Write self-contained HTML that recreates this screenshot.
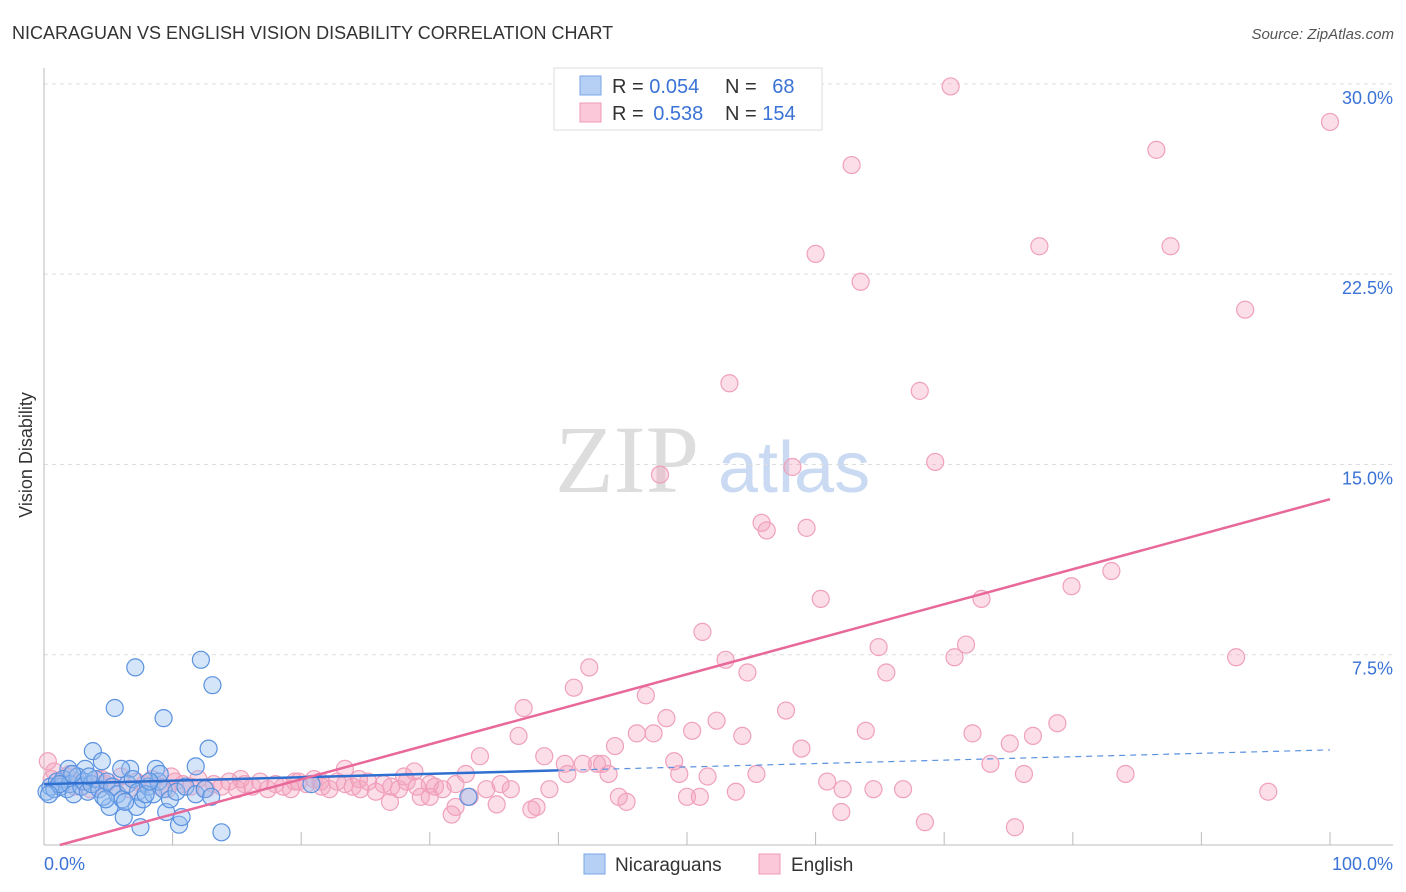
<!DOCTYPE html>
<html><head><meta charset="utf-8"><style>
body{margin:0;background:#fff;font-family:"Liberation Sans",sans-serif;}
svg{display:block}
</style></head><body>
<svg width="1406" height="892">
<text x="12" y="39" font-size="18" fill="#333">NICARAGUAN VS ENGLISH VISION DISABILITY CORRELATION CHART</text>
<text x="1394" y="39" font-size="15" fill="#555" font-style="italic" text-anchor="end">Source: ZipAtlas.com</text>
<text x="32" y="455" font-size="18" fill="#333" transform="rotate(-90 32 455)" text-anchor="middle">Vision Disability</text>
<g>
<text x="555" y="492" font-size="96" font-family="Liberation Serif,serif" fill="#ddd">ZIP</text>
<text x="718" y="492" font-size="72" fill="#c9daf2">atlas</text>
</g>
<g id="grid"></g>
<g id="axes"></g>
<g id="pts"></g>
<g id="lines"></g>
<g>
<rect x="554" y="68" width="268" height="62" fill="#fff" stroke="#ddd"/>
<rect x="580" y="76" width="21" height="19" fill="#b6d0f5" stroke="#7aa6e6"/>
<rect x="580" y="103" width="21" height="19" fill="#fac8d8" stroke="#ee9ab6"/>
<text x="612" y="93" font-size="20" fill="#333">R = <tspan fill="#3a72d6">0.054</tspan></text>
<text x="725" y="93" font-size="20" fill="#333">N = <tspan fill="#3a72d6" dx="10">68</tspan></text>
<text x="612" y="120" font-size="20" fill="#333">R = <tspan fill="#3a72d6" dx="4">0.538</tspan></text>
<text x="725" y="120" font-size="20" fill="#333">N = <tspan fill="#3a72d6">154</tspan></text>
</g>
<g>
<rect x="584" y="854" width="21" height="20" fill="#b6d0f5" stroke="#7aa6e6"/>
<text x="615" y="871" font-size="19" fill="#333">Nicaraguans</text>
<rect x="759" y="854" width="21" height="20" fill="#fac8d8" stroke="#ee9ab6"/>
<text x="791" y="871" font-size="19" fill="#333">English</text>
</g>
</svg>
<script>
const yTicks=[7.5,15,22.5,30];
const yTickLabels=["7.5%","15.0%","22.5%","30.0%"];
const xTickLabels=["0.0%","100.0%"];
const blueX=[7.1,12.2,13.1,5.5,9.3,12.8,3.8,11.8,4.5,8.7,6.7,6.0,1.9,3.2,13.8,7.5,10.5,10.7,6.2,9.5,5.1,7.2,20.8,33.0,
0.2,0.5,0.8,1.0,1.3,1.5,1.8,2.0,2.3,2.6,2.9,3.1,3.4,3.7,4.0,4.3,4.6,4.9,5.3,5.7,6.1,6.5,6.9,7.3,7.7,8.1,8.5,8.9,9.3,9.8,10.3,11.0,11.8,12.5,13.0,2.2,3.5,4.8,6.3,7.9,9.0,1.2,0.4,8.2];
const blueY=[7.0,7.3,6.3,5.4,5.0,3.8,3.7,3.1,3.3,3.0,3.0,3.0,3.0,3.0,0.5,0.7,0.8,1.1,1.1,1.3,1.5,1.5,2.4,1.9,
2.1,2.3,2.2,2.5,2.3,2.6,2.2,2.4,2.0,2.7,2.3,2.5,2.1,2.4,2.6,2.2,1.9,2.5,2.3,2.0,1.8,2.4,2.6,2.1,1.8,2.3,2.0,2.5,2.2,1.8,2.1,2.3,2.0,2.2,1.9,2.8,2.7,1.8,1.7,2.0,2.8,2.4,2.0,2.5];
const pinkX=[70.5,100,62.8,86.5,60.0,77.4,87.6,63.5,93.4,53.3,68.1,69.3,47.9,58.2,55.8,56.2,59.3,83.0,79.9,60.4,72.9,51.2,71.7,64.9,70.8,92.7,42.4,53.0,54.7,65.5,41.2,46.8,37.3,57.7,48.4,52.3,78.8,63.9,46.1,47.4,50.4,36.9,54.3,72.2,76.9,75.1,44.4,58.9,33.9,38.9,49.0,73.6,40.5,41.9,43.0,43.4,23.4,28.8,40.7,32.8,43.9,49.4,51.6,55.4,76.2,84.1,60.9,34.4,36.3,39.3,30.4,62.1,64.5,66.8,53.8,44.7,50.0,51.0,45.3,95.2,30.0,33.1,35.2,38.3,37.9,32.0,26.9,62.0,68.5,75.5,31.7,29.3,
0.3,0.6,1.2,1.8,2.4,3.0,3.6,4.2,4.8,5.4,6.0,6.6,7.2,7.8,8.4,9.0,9.6,10.2,10.8,11.4,12.0,12.6,13.2,13.8,14.4,15.0,15.6,16.2,16.8,17.4,18.0,18.6,19.2,19.8,20.4,21.0,21.6,22.2,22.8,23.4,24.0,24.6,25.2,25.8,26.4,27.0,27.6,28.2,29.0,30.0,31.0,32.0,0.8,2.0,4.5,9.9,15.3,19.5,24.5,28.0,35.5,21.5];
const pinkY=[29.9,28.5,26.8,27.4,23.3,23.6,23.6,22.2,21.1,18.2,17.9,15.1,14.6,14.9,12.7,12.4,12.5,10.8,10.2,9.7,9.7,8.4,7.9,7.8,7.4,7.4,7.0,7.3,6.8,6.8,6.2,5.9,5.4,5.3,5.0,4.9,4.8,4.5,4.4,4.4,4.5,4.3,4.3,4.4,4.3,4.0,3.9,3.8,3.5,3.5,3.3,3.2,3.2,3.2,3.2,3.2,3.0,2.9,2.8,2.8,2.8,2.8,2.7,2.8,2.8,2.8,2.5,2.2,2.2,2.2,2.3,2.2,2.2,2.2,2.1,1.9,1.9,1.9,1.7,2.1,1.9,1.9,1.6,1.5,1.4,1.5,1.7,1.3,0.9,0.7,1.2,1.9,
3.3,2.6,2.4,2.7,2.3,2.5,2.2,2.6,2.4,2.3,2.7,2.2,2.5,2.4,2.6,2.3,2.2,2.5,2.4,2.3,2.6,2.2,2.4,2.3,2.5,2.2,2.4,2.3,2.5,2.2,2.4,2.3,2.2,2.5,2.4,2.6,2.3,2.2,2.5,2.4,2.3,2.2,2.5,2.1,2.4,2.3,2.2,2.5,2.3,2.4,2.2,2.4,2.9,2.8,2.6,2.7,2.6,2.5,2.6,2.7,2.4,2.5];
const blueTrend=[2.4,0.0135];
const pinkTrend=[-0.17,0.138];
const X=v=>44+v*12.86, Y=v=>845-v*25.37;
const NS="http://www.w3.org/2000/svg";
function mk(tag,attrs,parent){const e=document.createElementNS(NS,tag);for(const k in attrs)e.setAttribute(k,attrs[k]);document.getElementById(parent).appendChild(e);return e;}
yTicks.forEach((t,i)=>{
 const g=mk('line',{x1:44,x2:1393,y1:Y(t),y2:Y(t),stroke:'#ddd','stroke-dasharray':'4,4'},'grid');
 
 
 const l=mk('text',{x:1393,y:Y(t)+20,'font-size':18,fill:'#3a72d6','text-anchor':'end'},'axes');
 l.textContent=yTickLabels[i];
 
 
});
let a=mk('line',{x1:44,x2:44,y1:68,y2:845,stroke:'#bbb'},'axes');


a=mk('line',{x1:44,x2:1393,y1:845,y2:845,stroke:'#bbb'},'axes');


for(let i=1;i<=10;i++){const t=mk('line',{x1:X(i*10),x2:X(i*10),y1:832,y2:845,stroke:'#bbb'},'axes');
 
 }
let xl=mk('text',{x:44,y:870,'font-size':18,fill:'#3a72d6'},'axes');xl.textContent=xTickLabels[0];


xl=mk('text',{x:1393,y:870,'font-size':18,fill:'#3a72d6','text-anchor':'end'},'axes');xl.textContent=xTickLabels[1];


pinkX.forEach((x,i)=>{const c=mk('circle',{cx:X(x),cy:Y(pinkY[i]),r:8.5,fill:'rgba(244,160,190,0.35)',stroke:'#f0a0bc','stroke-width':1.2},'pts');
 
 });
blueX.forEach((x,i)=>{const c=mk('circle',{cx:X(x),cy:Y(blueY[i]),r:8.5,fill:'rgba(150,190,240,0.4)',stroke:'#5a92e0','stroke-width':1.2},'pts');
 
 });
const bt=x=>blueTrend[0]+blueTrend[1]*x, pt=x=>pinkTrend[0]+pinkTrend[1]*x;
let l=mk('line',{x1:X(0),y1:Y(bt(0)),x2:X(40),y2:Y(bt(40)),stroke:'#2f6fd0','stroke-width':2.5},'lines');


l=mk('line',{x1:X(40),y1:Y(bt(40)),x2:X(100),y2:Y(bt(100)),stroke:'#5a92e0','stroke-width':1.2,'stroke-dasharray':'6,5'},'lines');


const x0=-pinkTrend[0]/pinkTrend[1];
l=mk('line',{x1:X(x0),y1:Y(0),x2:X(100),y2:Y(pt(100)),stroke:'#e8689a','stroke-width':2.5},'lines');


</script>
</body></html>
